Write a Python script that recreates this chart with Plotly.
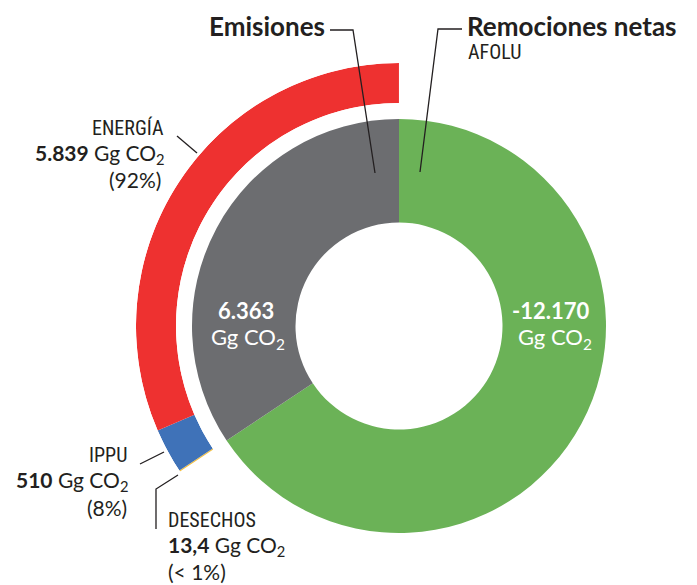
import numpy as np
import plotly.graph_objects as go

# ---------------- data ----------------
inner_labels = ["Remociones netas", "Emisiones"]
inner_values = [-12170, 6363]            # Gg CO2
sector_labels = ["DESECHOS", "IPPU", "ENERGÍA"]   # clockwise order after AFOLU
sector_values = [13.4, 510, 5839]        # Gg CO2
sector_value_text = ["13,4", "510", "5.839"]
sector_pct = ["(< 1%)", "(8%)", "(92%)"]
inner_value_text = ["-12.170", "6.363"]

# ---------------- styles ----------------
OFF = 8                       # default body margin of the html page
W, H = 697 - OFF, 585 - OFF
CX, CY = 399, 326             # centre in window pixels
R_IN, HOLE_IN = 207, 0.5
R_OUT, R_OUT_IN = 263, 223
GREEN, GRAY = "#6BB257", "#6C6D70"
SECTOR_COLORS = ["#F6C142", "#3F72B8", "#EE3130"]
INK = "#231F20"
BOLD_FONT = "Lato"
REG_FONT = "Lato"
COND_FONT = "Roboto Condensed, DejaVu Sans Condensed, Liberation Sans Narrow, Arial Narrow, Roboto, sans-serif"
COND_SIZE = 20


def px(x, y):
    return (x - OFF) / W, 1 - (y - OFF) / H


inner_abs = np.abs(np.array(inner_values, dtype=float))
total = inner_abs.sum()
vals = np.array(sector_values, dtype=float)
start = inner_abs[0] / total * 360
widths = vals / total * 360
centers = start + np.cumsum(widths) - widths / 2

fig = go.Figure()

px0, py1 = px(CX - R_IN, CY - R_IN)
px1, py0 = px(CX + R_IN, CY + R_IN)
fig.add_trace(go.Pie(
    values=inner_abs, labels=inner_labels, sort=False, direction="clockwise",
    rotation=0, hole=HOLE_IN, textinfo="none", hoverinfo="label+value",
    marker=dict(colors=[GREEN, GRAY], line=dict(width=0)),
    domain=dict(x=[px0, px1], y=[py0, py1]),
    showlegend=False,
))

fig.add_trace(go.Barpolar(
    theta=centers, width=widths, r=[1] * len(vals), text=sector_labels,
    marker=dict(color=SECTOR_COLORS, line=dict(width=0)),
    hoverinfo="text", showlegend=False,
))

sb = np.sin(np.deg2rad(215))
qx0, qy1 = px(CX - R_OUT, CY - R_OUT)
qx1, qy0 = px(CX, CY - sb * R_OUT)
fig.update_layout(
    width=W, height=H, margin=dict(l=0, r=0, t=0, b=0),
    paper_bgcolor="white", plot_bgcolor="white", showlegend=False,
    polar=dict(
        domain=dict(x=[qx0, qx1], y=[qy0, qy1]),
        sector=[90, 215], hole=R_OUT_IN / R_OUT, bgcolor="rgba(0,0,0,0)",
        radialaxis=dict(range=[0, 1], visible=False, showgrid=False),
        angularaxis=dict(rotation=90, direction="clockwise", visible=False,
                         showgrid=False, showline=False),
    ),
)

# ---------------- leader lines ----------------
leaders = [
    [(330, 30), (353, 30), (375, 173)],
    [(462, 29), (438, 29), (420, 172)],
    [(177, 136), (197, 153)],
    [(140, 464), (164, 452)],
    [(156, 529), (156, 489), (178, 475)],
]
for pts in leaders:
    p = []
    for i, (x, y) in enumerate(pts):
        a, b = px(x, y)
        p.append(("M" if i == 0 else "L") + f"{a:.5f},{b:.5f}")
    fig.add_shape(type="path", path=" ".join(p), xref="paper", yref="paper",
                  line=dict(color=INK, width=1.3))


def ann(text, x, y, size, family, color=INK, xanchor="left", bold=False,
        yanchor="middle"):
    a, b = px(x, y)
    fig.add_annotation(text=f"<b>{text}</b>" if bold else text, x=a, y=b,
                       xref="paper", yref="paper", showarrow=False,
                       xanchor=xanchor, yanchor=yanchor,
                       font=dict(size=size, family=family, color=color))


GG = "Gg CO<sub>2</sub>"
ann("Emisiones", 327, OFF, 26, BOLD_FONT, xanchor="right", bold=True, yanchor="top")
ann("Remociones netas", 465, OFF, 26, BOLD_FONT, xanchor="left", bold=True, yanchor="top")
ann("AFOLU", 466, 52, COND_SIZE, COND_FONT, xanchor="left")

# ENERGÍA (right aligned)
ann(sector_labels[2], 166, 128, COND_SIZE, COND_FONT, xanchor="right")
ann(f"<b>{sector_value_text[2]}</b> {GG}", 167, 154, 21, REG_FONT, xanchor="right")
ann(sector_pct[2], 163, 180, 21, REG_FONT, xanchor="right")

# IPPU (right aligned)
ann(sector_labels[1], 129, 455, COND_SIZE, COND_FONT, xanchor="right")
ann(f"<b>{sector_value_text[1]}</b> {GG}", 130, 481, 21, REG_FONT, xanchor="right")
ann(sector_pct[1], 129, 507, 21, REG_FONT, xanchor="right")

# DESECHOS (left aligned)
ann(sector_labels[0], 166, 520, COND_SIZE, COND_FONT, xanchor="left")
ann(f"<b>{sector_value_text[0]}</b> {GG}", 166, 546, 21, REG_FONT, xanchor="left")
ann(sector_pct[0], 166, 571, 21, REG_FONT, xanchor="left")

# inside slices
ann(inner_value_text[1], 246, 310, 22, BOLD_FONT, color="white", xanchor="center", bold=True)
ann(GG, 248, 338, 22, REG_FONT, color="white", xanchor="center")
ann(inner_value_text[0], 550, 310, 22, BOLD_FONT, color="white", xanchor="center", bold=True)
ann(GG, 555, 338, 22, REG_FONT, color="white", xanchor="center")

fig.write_html("out.html")
